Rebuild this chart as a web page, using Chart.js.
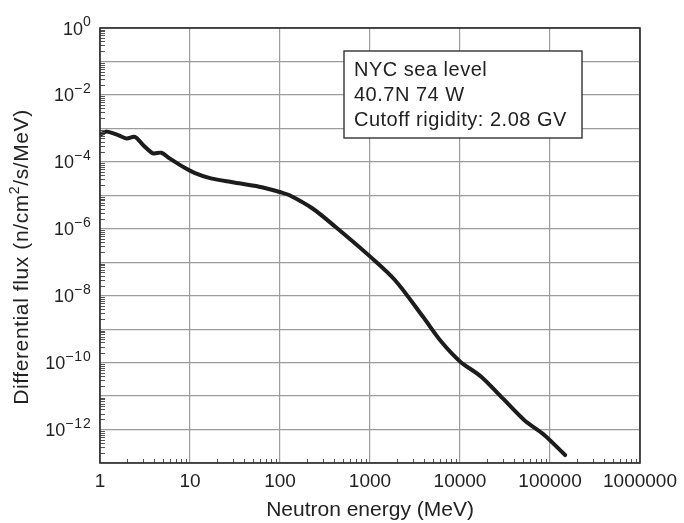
<!DOCTYPE html>
<html lang="en">
<head>
<meta charset="UTF-8">
<style>
  html, body { margin: 0; padding: 0; background: #fff; }
  #wrap { width: 684px; height: 523px; }
</style>
</head>
<body>
<div id="wrap"><canvas id="fluxChart" width="684" height="523"></canvas></div>
<script src="https://cdn.jsdelivr.net/npm/chart.js"></script>
<script>
// neutron spectrum (MeV, n/cm2/s/MeV)
const energyMeV = [1.04, 1.19, 1.59, 1.97, 2.44, 3.01, 3.88, 4.81, 5.93, 8.32, 11.2, 17.1, 29.7, 58.6,
  102, 126, 228, 412, 1005, 1900, 3900, 6210, 10070, 17200, 29900, 51900, 86300, 147000];
const fluxValues = [6.8e-4, 8.0e-4, 6.3e-4, 5.0e-4, 5.6e-4, 3.2e-4, 1.8e-4, 1.87e-4, 1.27e-4, 7.2e-5, 4.7e-5, 3.2e-5, 2.45e-5, 1.8e-5,
  1.23e-5, 1.02e-5, 4.1e-6, 1.15e-6, 1.47e-7, 2.9e-8, 2.3e-9, 4.2e-10, 1.07e-10, 3.8e-11, 8.5e-12, 1.9e-12, 6.9e-13, 1.73e-13];

const xDecades = [1, 10, 100, 1000, 10000, 100000, 1000000];
const yExponents = [0, -1, -2, -3, -4, -5, -6, -7, -8, -9, -10, -11, -12, -13];
const yLabelExponents = [0, -2, -4, -6, -8, -10, -12];
const noteLines = ['NYC sea level', '40.7N 74 W', 'Cutoff rigidity: 2.08 GV'];

const FONT = '"Liberation Sans", Arial, sans-serif';
const INK = '#222';

const extras = {
  id: 'extras',
  afterDraw(chart) {
    const ctx = chart.ctx;
    const a = chart.chartArea;
    const xs = chart.scales.x;
    const ys = chart.scales.y;
    ctx.save();

    // minor ticks, inside the frame
    ctx.strokeStyle = '#555';
    ctx.lineWidth = 1;
    ctx.beginPath();
    for (let d = 1; d < 1000000; d *= 10) {
      for (let k = 2; k <= 9; k++) {
        const px = Math.round(xs.getPixelForValue(d * k)) + 0.5;
        ctx.moveTo(px, a.bottom);
        ctx.lineTo(px, a.bottom - 4);
      }
    }
    for (let e = -13; e < 0; e++) {
      for (let k = 2; k <= 9; k++) {
        const py = Math.round(ys.getPixelForValue(k * Math.pow(10, e))) + 0.5;
        ctx.moveTo(a.left, py);
        ctx.lineTo(a.left + 5, py);
      }
    }
    ctx.stroke();

    // frame
    ctx.strokeStyle = '#2a2a2a';
    ctx.lineWidth = 1.6;
    ctx.strokeRect(a.left, a.top, a.right - a.left, a.bottom - a.top);

    // y tick labels 10^n
    ctx.fillStyle = INK;
    ctx.textAlign = 'left';
    ctx.textBaseline = 'alphabetic';
    const rightEdge = 91.5;
    yLabelExponents.forEach(e => {
      const py = ys.getPixelForValue(Math.pow(10, e));
      const sup = e === 0 ? '0' : '\u2212' + Math.abs(e);
      ctx.font = '14px ' + FONT;
      ctx.letterSpacing = '0.8px';
      const ws = ctx.measureText(sup).width;
      ctx.font = '18px ' + FONT;
      ctx.letterSpacing = '0px';
      const wb = ctx.measureText('10').width;
      ctx.fillText('10', rightEdge - ws - wb, py + 6.5);
      ctx.font = '14px ' + FONT;
      ctx.letterSpacing = '0.8px';
      ctx.fillText(sup, rightEdge - ws, py - 2);
    });
    ctx.letterSpacing = '0px';

    // y title with superscript
    ctx.save();
    ctx.translate(21, 257);
    ctx.rotate(-Math.PI / 2);
    const partA = 'Differential flux (n/cm';
    const partB = '/s/MeV)';
    ctx.letterSpacing = '0.6px';
    ctx.font = '21px ' + FONT;
    const wa = ctx.measureText(partA).width;
    const wbb = ctx.measureText(partB).width;
    ctx.font = '14px ' + FONT;
    const w2 = ctx.measureText('2').width;
    let x0 = -(wa + w2 + wbb) / 2;
    ctx.font = '21px ' + FONT;
    ctx.fillText(partA, x0, 6.5);
    ctx.font = '14px ' + FONT;
    ctx.fillText('2', x0 + wa, -2);
    ctx.font = '21px ' + FONT;
    ctx.fillText(partB, x0 + wa + w2, 6.5);
    ctx.restore();

    // annotation box
    ctx.fillStyle = '#fff';
    ctx.fillRect(344, 51, 238, 87);
    ctx.strokeStyle = '#333';
    ctx.lineWidth = 1.4;
    ctx.strokeRect(344, 51, 238, 87);
    ctx.fillStyle = INK;
    ctx.font = '20px ' + FONT;
    ctx.letterSpacing = '0.5px';
    noteLines.forEach((t, i) => ctx.fillText(t, 354, 76 + i * 25));
    ctx.restore();
  }
};

new Chart(document.getElementById('fluxChart'), {
  type: 'line',
  data: {
    datasets: [{
      data: energyMeV.map((e, i) => ({ x: e, y: fluxValues[i] })),
      borderColor: '#1c1c1c',
      borderWidth: 4,
      pointRadius: 0,
      fill: false,
      tension: 0.3,
      borderCapStyle: 'round',
      borderJoinStyle: 'round'
    }]
  },
  options: {
    responsive: false,
    animation: false,
    layout: { padding: { top: 28, right: 41, left: 0, bottom: 0 } },
    plugins: { legend: { display: false }, tooltip: { enabled: false } },
    scales: {
      x: {
        type: 'logarithmic',
        min: 1,
        max: 1000000,
        afterBuildTicks: s => { s.ticks = xDecades.map(v => ({ value: v })); },
        afterFit: s => { s.height = 60; },
        ticks: {
          autoSkip: false,
          maxRotation: 0,
          minRotation: 0,
          padding: 7,
          color: INK,
          font: { family: FONT, size: 19 },
          callback: v => String(v)
        },
        grid: { color: '#9c9c9c', lineWidth: 1.2, drawTicks: false },
        border: { display: false },
        title: {
          display: true,
          text: 'Neutron energy (MeV)',
          color: INK,
          padding: 0,
          font: { family: FONT, size: 21 }
        }
      },
      y: {
        type: 'logarithmic',
        min: 1e-13,
        max: 1,
        afterBuildTicks: s => { s.ticks = yExponents.map(e => ({ value: Math.pow(10, e) })); },
        afterFit: s => { s.width = 100; },
        ticks: { display: false },
        grid: { color: '#9c9c9c', lineWidth: 1.2, drawTicks: false },
        border: { display: false }
      }
    }
  },
  plugins: [extras]
});
</script>
</body>
</html>
